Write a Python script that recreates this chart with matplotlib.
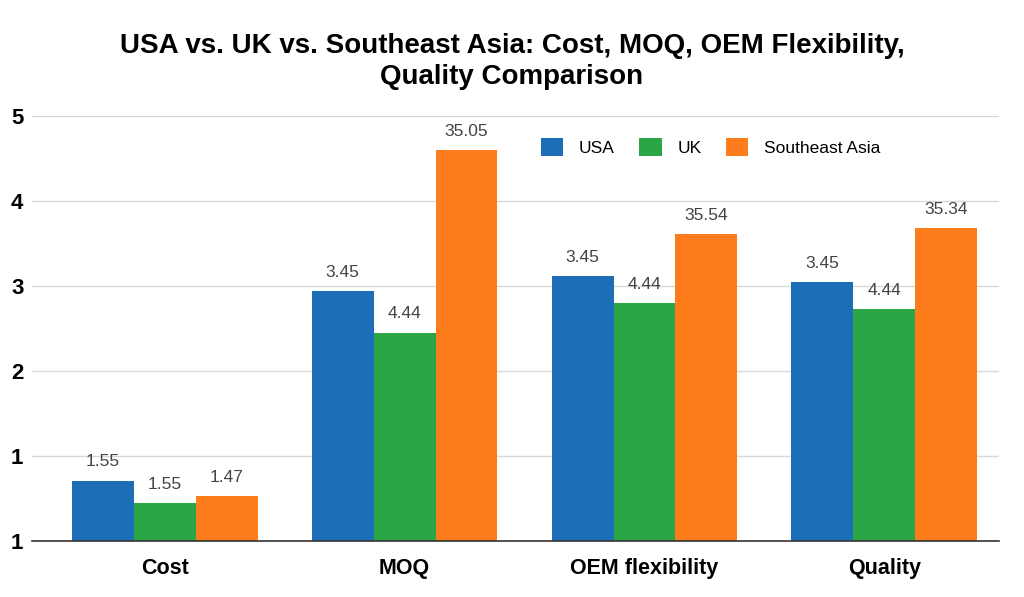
import numpy as np
import matplotlib.pyplot as plt

categories = ['Cost', 'MOQ', 'OEM flexibility', 'Quality']
series = ['USA', 'UK', 'Southeast Asia']
usa = [0.71, 2.94, 3.12, 3.04]
uk = [0.44, 2.45, 2.80, 2.73]
sea = [0.53, 4.60, 3.61, 3.68]
usa_labels = ['1.55', '3.45', '3.45', '3.45']
uk_labels = ['1.55', '4.44', '4.44', '4.44']
sea_labels = ['1.47', '35.05', '35.54', '35.34']
ytick_vals = [0, 1, 2, 3, 4, 5]
ytick_text = ['1', '1', '2', '3', '4', '5']

colors = ['#1c6fb6', '#2ca546', '#fd7d1c']

plt.rcParams['font.family'] = ['Liberation Sans', 'DejaVu Sans']

fig = plt.figure(figsize=(10.24, 5.97), dpi=100)
ax = fig.add_axes([0.031, 0.094, 0.945, 0.712])

x = np.arange(len(categories))
w = 0.258
for i, (vals, labs) in enumerate(zip([usa, uk, sea], [usa_labels, uk_labels, sea_labels])):
    bars = ax.bar(x + (i - 1) * w, vals, w, color=colors[i], label=series[i], zorder=3)
    for b, t in zip(bars, labs):
        ax.annotate(t, (b.get_x() + b.get_width() / 2, b.get_height()),
                    xytext=(0, 8), textcoords='offset points', ha='center', va='bottom',
                    fontsize=12.5, color='#444444')

ax.set_xlim(-0.555, 3.48)
ax.set_ylim(0, 5)
ax.set_yticks(ytick_vals)
ax.set_yticklabels(ytick_text, fontsize=16, fontweight='bold')
ax.set_xticks(x)
ax.set_xticklabels(categories, fontsize=15.5, fontweight='bold')
ax.tick_params(axis='both', length=0)
ax.tick_params(axis='x', pad=12)
ax.tick_params(axis='y', pad=6)
ax.grid(axis='y', color='#d9d9d9', linewidth=1, zorder=0)
for s in ['top', 'right', 'left']:
    ax.spines[s].set_visible(False)
ax.spines['bottom'].set_color('#333333')
ax.spines['bottom'].set_linewidth(1.2)
ax.spines['bottom'].set_zorder(4)

ax.legend(ncol=3, frameon=False, fontsize=12.5, loc='upper left', bbox_to_anchor=(0.51, 0.985),
          handlelength=1.3, handleheight=1.2, columnspacing=1.4, handletextpad=0.9)

fig.suptitle('USA vs. UK vs. Southeast Asia: Cost, MOQ, OEM Flexibility,\nQuality Comparison',
             fontsize=20, fontweight='bold', y=0.945, linespacing=1.25)

plt.savefig('out.png', dpi=100)
